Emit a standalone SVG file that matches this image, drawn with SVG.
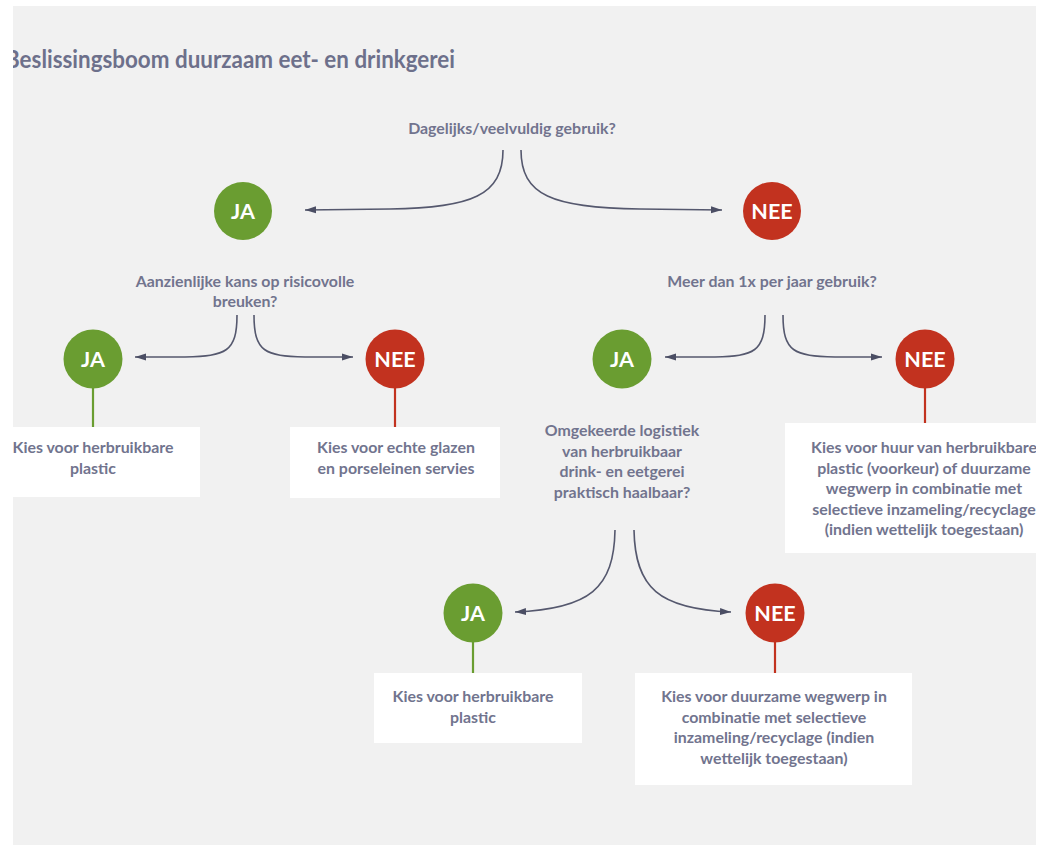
<svg xmlns="http://www.w3.org/2000/svg" width="1038" height="845" viewBox="0 0 1038 845">
<style>
.q{font-family:Lato,"Open Sans","DejaVu Sans",sans-serif;font-weight:bold;font-size:15.9px;fill:#71748e;text-anchor:middle}
.t{font-family:Lato,"Open Sans","DejaVu Sans",sans-serif;font-weight:bold;font-size:24px;fill:#6d708b}
.ct{font-family:Lato,"Open Sans","DejaVu Sans",sans-serif;font-weight:bold;font-size:21.5px;fill:#ffffff;text-anchor:middle}
.ja{fill:#6a9d31}
.nee{fill:#c2321f}
.box{fill:#ffffff}
.con{fill:none;stroke:#55586e;stroke-width:1.6;marker-end:url(#ah)}
.sg{stroke:#6a9d31;stroke-width:2.2}
.sr{stroke:#c2321f;stroke-width:2.2}
</style>
<defs>
<marker id="ah" markerUnits="userSpaceOnUse" markerWidth="12" markerHeight="8" refX="11" refY="4" orient="auto">
<path d="M0,0.5 L11,4 L0,7.5 z" fill="#4b4e64"/>
</marker>
<clipPath id="pg"><rect x="13" y="6" width="1023" height="839"/></clipPath>
</defs>
<rect x="13" y="6" width="1023" height="839" fill="#f1f1f1"/>
<g clip-path="url(#pg)">
<g id="title"><text class="t" x="5" y="68" textLength="450" lengthAdjust="spacingAndGlyphs">Beslissingsboom duurzaam eet- en drinkgerei</text></g>

<g id="connectors">
<path class="con" d="M503,150 C503,195 472,208 390,209 L305,210"/>
<path class="con" d="M521,150 C521,195 552,208 640,209 L722,210"/>
<path class="con" d="M237,315 C237,352 226,356 185,357 L135,357"/>
<path class="con" d="M254,315 C254,352 265,356 305,357 L353,357"/>
<path class="con" d="M765,315 C765,352 754,356 715,357 L665,357"/>
<path class="con" d="M783,315 C783,352 794,356 835,357 L882,357"/>
<path class="con" d="M615,530 C614,588 590,609 515,612"/>
<path class="con" d="M634,530 C635,588 659,609 731,612"/>
<line class="sg" x1="93" y1="388" x2="93" y2="427"/>
<line class="sr" x1="395" y1="388" x2="395" y2="427"/>
<line class="sr" x1="925" y1="388" x2="925" y2="423"/>
<line class="sg" x1="473" y1="642" x2="473" y2="673"/>
<line class="sr" x1="775" y1="642" x2="775" y2="673"/>
</g>

<g id="q-dagelijks"><text class="q" x="512" y="134">Dagelijks/veelvuldig gebruik?</text></g>
<g id="ja-1"><circle class="ja" cx="243" cy="211" r="29"/><text class="ct" x="243" y="218.5">JA</text></g>
<g id="nee-1"><circle class="nee" cx="772" cy="211" r="29"/><text class="ct" x="772" y="218.5">NEE</text></g>

<g id="q-breuken"><text class="q" x="245" y="287">Aanzienlijke kans op risicovolle</text><text class="q" x="245" y="307">breuken?</text></g>
<g id="ja-2"><circle class="ja" cx="93" cy="359" r="29.5"/><text class="ct" x="93" y="366.5">JA</text></g>
<g id="nee-2"><circle class="nee" cx="395" cy="359" r="29.5"/><text class="ct" x="395" y="366.5">NEE</text></g>
<g id="res-plastic-1"><rect class="box" x="0" y="427" width="200" height="70"/><text class="q" x="93" y="453">Kies voor herbruikbare</text><text class="q" x="93" y="473.5">plastic</text></g>
<g id="res-glas"><rect class="box" x="290" y="427" width="210" height="71"/><text class="q" x="396" y="453">Kies voor echte glazen</text><text class="q" x="396" y="473.5">en porseleinen servies</text></g>

<g id="q-jaar"><text class="q" x="772" y="287">Meer dan 1x per jaar gebruik?</text></g>
<g id="ja-3"><circle class="ja" cx="622" cy="359" r="29.5"/><text class="ct" x="622" y="366.5">JA</text></g>
<g id="nee-3"><circle class="nee" cx="925" cy="359" r="29.5"/><text class="ct" x="925" y="366.5">NEE</text></g>
<g id="res-huur"><rect class="box" x="785" y="423" width="260" height="130"/>
<text class="q" x="924" y="453">Kies voor huur van herbruikbare</text>
<text class="q" x="924" y="473.5">plastic (voorkeur) of duurzame</text>
<text class="q" x="924" y="494">wegwerp in combinatie met</text>
<text class="q" x="924" y="514.5">selectieve inzameling/recyclage</text>
<text class="q" x="924" y="535">(indien wettelijk toegestaan)</text></g>

<g id="q-logistiek">
<text class="q" x="622" y="436">Omgekeerde logistiek</text>
<text class="q" x="622" y="456.5">van herbruikbaar</text>
<text class="q" x="622" y="477">drink- en eetgerei</text>
<text class="q" x="622" y="497.5">praktisch haalbaar?</text></g>
<g id="ja-4"><circle class="ja" cx="473" cy="613" r="29.5"/><text class="ct" x="473" y="620.5">JA</text></g>
<g id="nee-4"><circle class="nee" cx="775" cy="613" r="29.5"/><text class="ct" x="775" y="620.5">NEE</text></g>
<g id="res-plastic-2"><rect class="box" x="374" y="673" width="208" height="70"/><text class="q" x="473" y="702">Kies voor herbruikbare</text><text class="q" x="473" y="722.5">plastic</text></g>
<g id="res-wegwerp"><rect class="box" x="635" y="673" width="277" height="112"/>
<text class="q" x="774" y="702">Kies voor duurzame wegwerp in</text>
<text class="q" x="774" y="722.5">combinatie met selectieve</text>
<text class="q" x="774" y="743">inzameling/recyclage (indien</text>
<text class="q" x="774" y="763.5">wettelijk toegestaan)</text></g>
</g>
</svg>
